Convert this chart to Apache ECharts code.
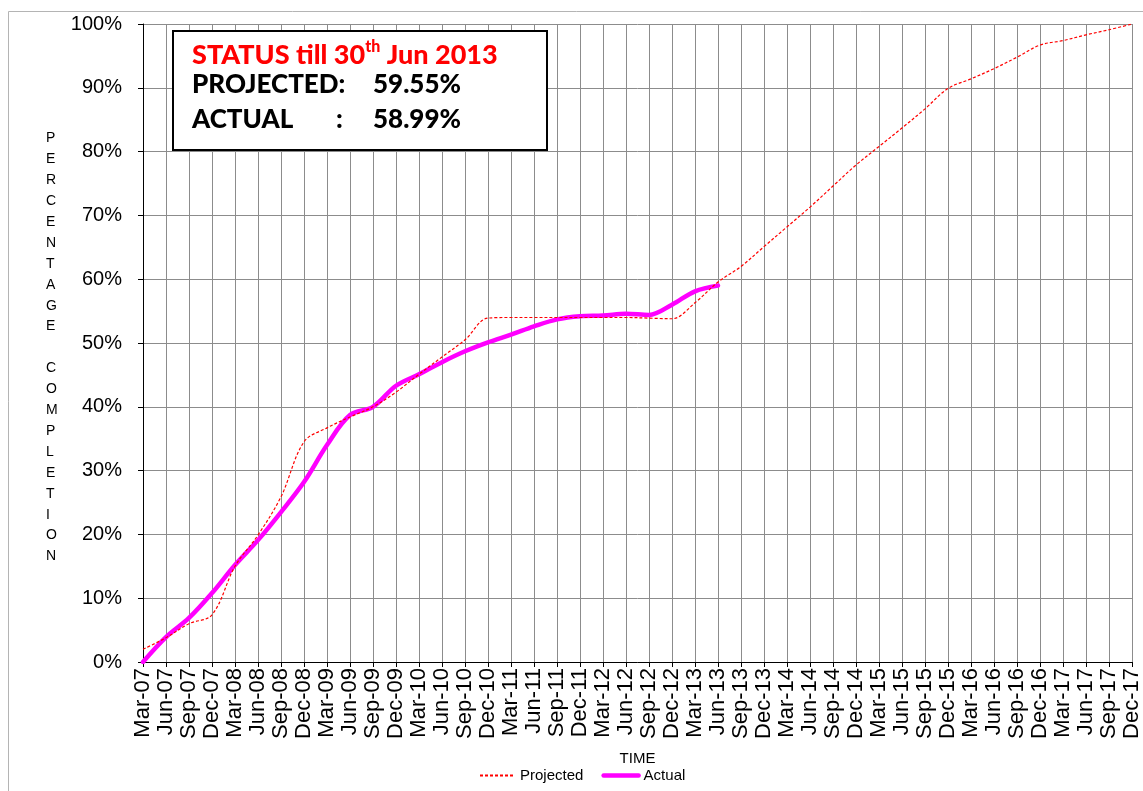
<!DOCTYPE html>
<html>
<head>
<meta charset="utf-8">
<script src="https://cdn.jsdelivr.net/npm/echarts@6/dist/echarts.min.js"></script>
<style>
html,body{margin:0;padding:0;background:#fff;}
#chart{width:1143px;height:791px;}
</style>
</head>
<body>
<div id="chart"></div>
<script>
var categories = ['Mar-07','Jun-07','Sep-07','Dec-07','Mar-08','Jun-08','Sep-08','Dec-08','Mar-09','Jun-09','Sep-09','Dec-09','Mar-10','Jun-10','Sep-10','Dec-10','Mar-11','Jun-11','Sep-11','Dec-11','Mar-12','Jun-12','Sep-12','Dec-12','Mar-13','Jun-13','Sep-13','Dec-13','Mar-14','Jun-14','Sep-14','Dec-14','Mar-15','Jun-15','Sep-15','Dec-15','Mar-16','Jun-16','Sep-16','Dec-16','Mar-17','Jun-17','Sep-17','Dec-17'];
var projected = [2.0,3.8,6.0,7.4,15.0,19.9,25.9,34.5,36.7,38.4,40.0,42.3,45.1,47.8,50.5,53.9,54.0,54.0,54.0,54.0,54.0,54.0,53.9,53.8,56.3,59.55,62.0,65.1,68.2,71.3,74.6,77.9,80.8,83.7,86.7,89.9,91.4,93.0,94.8,96.7,97.4,98.3,99.1,100];
var actual = [0,3.9,6.9,10.8,15.2,19.1,23.5,28.2,34.0,38.7,40.0,43.3,45.1,47.0,48.7,50.1,51.3,52.6,53.7,54.2,54.3,54.6,54.4,56.0,58.1,58.99];
var yTicks = {min:0, max:100, interval:10};
var statusTitle = 'STATUS till 30';
var statusSup = 'th';
var statusDate = ' Jun 2013';
var projectedLabel = 'PROJECTED:';
var actualLabel = 'ACTUAL';
var projectedPct = '59.55%';
var actualPct = '58.99%';
var yTitle = 'PERCENTAGE COMPLETION';

var chart = echarts.init(document.getElementById('chart'));
var yTitleStacked = yTitle.split('').join('\n');
var boxFont = {fontFamily: 'Lato', fontWeight: 900, fontSize: 26, fill: '#000', verticalAlign: 'middle'};
function boxText(x, y, t, extra) {
  return {type: 'text', z: 21, x: x, y: y, style: Object.assign({text: t}, boxFont, extra || {})};
}

var option = {
  backgroundColor: '#fff',
  animation: false,
  grid: {left: 143, right: 10, top: 24, bottom: 129},
  legend: {
    orient: 'horizontal',
    left: 474, bottom: 3,
    itemWidth: 35, itemHeight: 10, itemGap: 18,
    itemStyle: {opacity: 0},
    textStyle: {fontFamily: 'Liberation Sans', fontSize: 15, color: '#000'},
    data: [
      {name: 'Projected'},
      {name: 'Actual', lineStyle: {color: '#ff00ff', width: 4.5}}
    ]
  },
  xAxis: {
    type: 'category',
    data: categories,
    boundaryGap: false,
    name: 'TIME',
    nameLocation: 'middle',
    nameGap: 89,
    nameTextStyle: {fontFamily: 'Liberation Sans', fontSize: 15, color: '#000'},
    axisLine: {lineStyle: {color: '#000', width: 1}},
    axisTick: {show: true, length: 5, lineStyle: {color: '#000'}},
    axisLabel: {interval: 0, rotate: 90, margin: 6, fontFamily: 'Liberation Sans', fontSize: 22, color: '#000'},
    splitLine: {show: true, interval: 0, lineStyle: {color: '#8c8c8c', width: 1}}
  },
  yAxis: {
    type: 'value',
    min: yTicks.min, max: yTicks.max, interval: yTicks.interval,
    axisLine: {show: true, lineStyle: {color: '#000', width: 1}},
    axisTick: {show: true, length: 5, lineStyle: {color: '#000'}},
    axisLabel: {formatter: '{value}%', margin: 21, fontFamily: 'Liberation Sans', fontSize: 20, color: '#000'},
    splitLine: {show: true, lineStyle: {color: '#8c8c8c', width: 1}}
  },
  series: [
    {
      name: 'Projected', type: 'line', data: projected,
      smooth: 0.35, symbol: 'none',
      lineStyle: {color: '#ff0000', width: 1.2, type: [3, 2]},
      itemStyle: {color: '#ff0000'},
      z: 3
    },
    {
      name: 'Actual', type: 'line', data: actual,
      smooth: 0.35, symbol: 'none',
      lineStyle: {color: '#ff00ff', width: 4.5, cap: 'round'},
      itemStyle: {color: '#ff00ff'},
      z: 2
    }
  ],
  graphic: [
    {type: 'rect', z: -10, silent: true,
     shape: {x: 8.5, y: 11.5, width: 1200, height: 800},
     style: {fill: null, stroke: '#b4b4b4', lineWidth: 1}},
    {type: 'text', left: 46, top: 128, z: 10,
     style: {text: yTitleStacked, fontFamily: 'Liberation Sans', fontSize: 14, lineHeight: 20.9, fill: '#000', align: 'center', width: 16}},
    {type: 'rect', z: 20,
     shape: {x: 173, y: 31, width: 374, height: 119},
     style: {fill: '#fff', stroke: '#000', lineWidth: 2}},
    {type: 'text', z: 21, x: 192, y: 54,
     style: {
       text: '{a|' + statusTitle + '}{s|' + statusSup + '}{a|' + statusDate + '}',
       verticalAlign: 'middle',
       rich: {
         a: {fontFamily: 'Lato', fontWeight: 900, fontSize: 27, fill: '#ff0000', verticalAlign: 'bottom', lineHeight: 30},
         s: {fontFamily: 'Lato', fontWeight: 900, fontSize: 16, fill: '#ff0000', verticalAlign: 'top', lineHeight: 30}
       }
     }},
    boxText(192, 85, projectedLabel),
    boxText(373, 85, projectedPct),
    boxText(192, 120, actualLabel),
    boxText(336, 120, ':'),
    boxText(373, 120, actualPct)
  ]
};
chart.setOption(option);
</script>
</body>
</html>
